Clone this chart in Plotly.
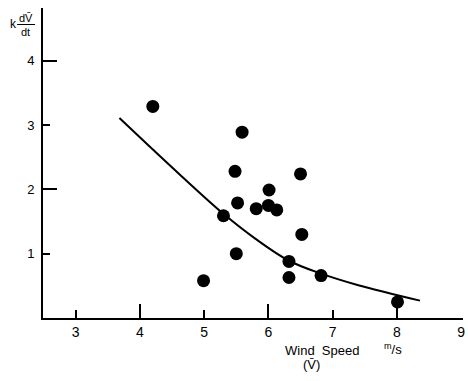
import plotly.graph_objects as go

# Observed points (wind speed m/s, k dV/dt)
wind_speed = [4.20, 5.59, 5.48, 6.50, 6.01, 5.52, 5.81, 6.00, 6.13, 5.30, 6.52, 5.50, 6.32, 4.99, 6.32, 6.82, 8.01]
rate = [3.29, 2.89, 2.28, 2.24, 1.99, 1.79, 1.70, 1.75, 1.68, 1.59, 1.30, 1.00, 0.88, 0.58, 0.63, 0.66, 0.25]

# Fitted curve
curve_x = [3.68, 4.20, 4.61, 5.30, 5.80, 6.32, 6.82, 7.40, 8.36]
curve_y = [3.11, 2.62, 2.24, 1.62, 1.23, 0.89, 0.69, 0.51, 0.27]

x_labels = [3, 4, 5, 6, 7, 8, 9]
x_short_ticks = [3, 5, 7]
x_long_ticks = [4, 6, 8]
y_labels = [1, 2, 3, 4]
y_short_ticks = [1, 3]
y_long_ticks = [2, 4]

XR = [2.49, 9.03]
YR = [0, 4.82]
L, R, T, B = 43, 3, 8, 63
W, H = 468, 381
PW, PH = W - L - R, H - T - B

def px(x):
    return (x - L) / PW

def py(y):
    return (H - B - y) / PH

FONT = "Liberation Sans, Arial, sans-serif"

fig = go.Figure()
fig.add_trace(go.Scatter(x=curve_x, y=curve_y, mode="lines",
                         line=dict(color="black", width=2, shape="spline", smoothing=1.0),
                         hoverinfo="skip", showlegend=False))
fig.add_trace(go.Scatter(x=wind_speed, y=rate, mode="markers",
                         marker=dict(color="black", size=13), showlegend=False))

common = dict(showgrid=False, zeroline=False)
fig.update_layout(
    width=W, height=H,
    margin=dict(l=L, r=R, t=T, b=B),
    paper_bgcolor="white", plot_bgcolor="white",
    font=dict(family=FONT, color="black"),
    xaxis=dict(range=XR, tickvals=x_labels, ticks="", showline=True, linecolor="black",
               linewidth=2, tickfont=dict(size=14, family=FONT), **common),
    yaxis=dict(range=YR, tickvals=y_labels, ticks="", showline=True, linecolor="black",
               linewidth=2, tickfont=dict(size=13, family=FONT), ticklabelstandoff=4, **common),
    xaxis2=dict(range=XR, overlaying="x", anchor="y", side="bottom", tickvals=x_short_ticks,
                ticks="inside", ticklen=8, tickwidth=2, tickcolor="black",
                showticklabels=False, showline=False, **common),
    xaxis3=dict(range=XR, overlaying="x", anchor="y", side="bottom", tickvals=x_long_ticks,
                ticks="inside", ticklen=14, tickwidth=2, tickcolor="black",
                showticklabels=False, showline=False, **common),
    yaxis2=dict(range=YR, overlaying="y", anchor="x", side="left", tickvals=y_short_ticks,
                ticks="inside", ticklen=7, tickwidth=2, tickcolor="black",
                showticklabels=False, showline=False, **common),
    yaxis3=dict(range=YR, overlaying="y", anchor="x", side="left", tickvals=y_long_ticks,
                ticks="inside", ticklen=14, tickwidth=2, tickcolor="black",
                showticklabels=False, showline=False, **common),
)

# invisible traces so overlay axes render
fig.add_trace(go.Scatter(x=[None], y=[None], xaxis="x2", yaxis="y2", showlegend=False, hoverinfo="skip"))
fig.add_trace(go.Scatter(x=[None], y=[None], xaxis="x3", yaxis="y3", showlegend=False, hoverinfo="skip"))

ann = [
    dict(text="Wind\u00a0\u00a0Speed", x=px(323), y=py(350), size=13),
    dict(text="(V\u0304)", x=px(313), y=py(364), size=13),
    dict(text="<sup>m</sup>/s", x=px(395), y=py(349), size=13),
    dict(text="k", x=px(13), y=py(24), size=12),
    dict(text="dV\u0304", x=px(26), y=py(18), size=11),
    dict(text="dt", x=px(25), y=py(32), size=11),
]
for a in ann:
    fig.add_annotation(text=a["text"], x=a["x"], y=a["y"], xref="paper", yref="paper",
                       showarrow=False, xanchor="center", yanchor="middle",
                       font=dict(size=a["size"], family=FONT, color="black"))
fig.add_shape(type="line", xref="paper", yref="paper", x0=px(17), x1=px(35),
              y0=py(24.5), y1=py(24.5), line=dict(color="black", width=1))

fig.write_html("out.html", config={"displayModeBar": False},
               post_script="document.body.style.margin='0';document.body.style.overflow='hidden';")
